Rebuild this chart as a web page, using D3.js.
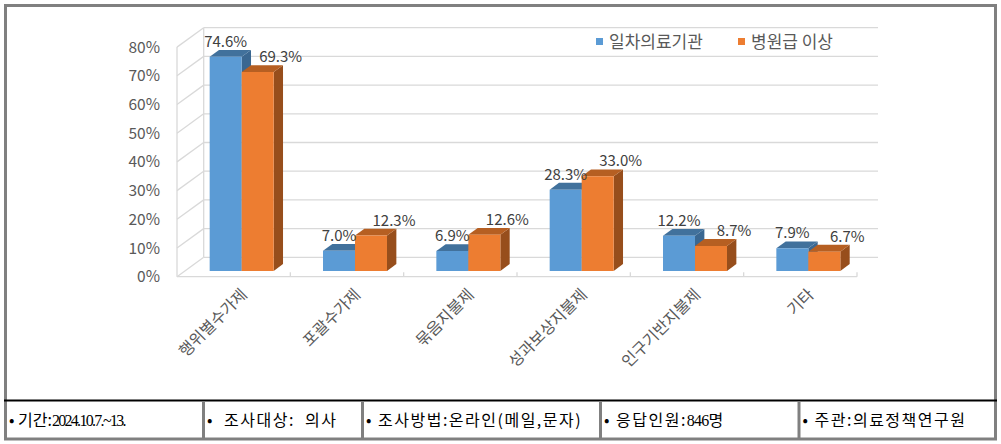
<!DOCTYPE html>
<html><head><meta charset="utf-8">
<script src="https://cdn.jsdelivr.net/npm/d3@7"></script>
<style>
html,body{margin:0;padding:0;background:#fff;}
svg{display:block;}
text{font-family:"Noto Sans CJK KR","Noto Sans",sans-serif;}
.pre{white-space:pre;}
</style></head>
<body>
<svg id="c" width="1001" height="444"></svg>
<script>
const categories = ["행위별수가제","포괄수가제","묶음지불제","성과보상지불제","인구기반지불제","기타"];
const seriesNames = ["일차의료기관","병원급 이상"];
const primaryCare = [74.6, 7.0, 6.9, 28.3, 12.2, 7.9];
const hospital = [69.3, 12.3, 12.6, 33.0, 8.7, 6.7];
const yTicks = [0,10,20,30,40,50,60,70,80];
const infoCells = [
  {parts:[["• 기간:","tight"],["2024.10.7.~13.","num"]]},
  {parts:[["•  조사대상:  의사",""]]},
  {parts:[["• 조사방법:온라인(메일,문자)",""]]},
  {parts:[["• 응답인원:",""],["846","num2"],["명",""]]},
  {parts:[["• 주관:의료정책연구원",""]]}
];
const cellEdges = [5.5, 203.5, 362.5, 600.5, 799, 995.5];

const svg = d3.select("#c");
const colors = {
  front:["#5B9BD5","#ED7D31"],
  top:["#41719C","#B65F22"],
  side:["#3A6791","#974E1C"]
};
const DX = 26.7, DY = 19.4;
const x = d3.scaleBand().domain(categories).range([177, 857]).paddingInner(0).paddingOuter(0);
const y = d3.scaleLinear().domain([0, 80]).range([276.7, 47.1]);
const P = (px, v, z) => [px + z*DX, y(v) - z*DY];

// outer frame
svg.append("rect").attr("x",5.5).attr("y",5.5).attr("width",990).attr("height",433.5)
  .attr("fill","none").attr("stroke","#808080").attr("stroke-width",3);

const grid = svg.append("g").attr("stroke","#d9d9d9").attr("stroke-width",1.3).attr("fill","none");
yTicks.forEach(t => {
  const a = P(177, t, 1), b = [878, y(t) - DY];
  grid.append("line").attr("x1",a[0]).attr("y1",a[1]).attr("x2",b[0]).attr("y2",b[1]);
  const f = P(177, t, 0);
  grid.append("line").attr("x1",f[0]).attr("y1",f[1]).attr("x2",a[0]).attr("y2",a[1]);
});
grid.append("line").attr("x1",177).attr("y1",y(0)).attr("x2",177).attr("y2",y(80));
grid.append("line").attr("x1",177+DX).attr("y1",y(0)-DY).attr("x2",177+DX).attr("y2",y(80)-DY);
grid.append("line").attr("x1",177).attr("y1",y(0)).attr("x2",857).attr("y2",y(0));
categories.forEach((c,i) => {
  const xx = x(c) + x.bandwidth();
  grid.append("line").attr("x1",xx).attr("y1",y(0)).attr("x2",xx).attr("y2",y(0)-4.5);
});

// y axis labels
svg.append("g").selectAll("text").data(yTicks).join("text")
  .attr("x",160).attr("y",d => y(d)).attr("dy","0.36em").attr("text-anchor","end")
  .attr("font-size",15.5).attr("fill","#595959").text(d => d + "%");

// bars
const barW = 32, z0 = 0.3, z1 = 0.65;
const series = [primaryCare, hospital];
const bars = svg.append("g");
const fmt = d3.format(".1f");
categories.forEach((c, i) => {
  const cx = x(c) + x.bandwidth()/2;
  series.forEach((s, k) => {
    const v = s[i];
    const xl = cx - barW + k*barW, xr = xl + barW;
    const fl = P(xl, v, z0), fr = P(xr, v, z0), bl = P(xl, v, z1), br = P(xr, v, z1);
    const f0l = P(xl, 0, z0), f0r = P(xr, 0, z0), b0r = P(xr, 0, z1);
    bars.append("path").attr("d", d3.line()([fr, br, b0r, f0r])).attr("fill", colors.side[k]);
    bars.append("path").attr("d", d3.line()([fl, bl, br, fr])).attr("fill", colors.top[k]);
    bars.append("path").attr("d", d3.line()([fl, fr, f0r, f0l])).attr("fill", colors.front[k]);
  });
});
// data labels
const lbl = svg.append("g");
categories.forEach((c, i) => {
  const cx = x(c) + x.bandwidth()/2;
  series.forEach((s, k) => {
    const v = s[i];
    const fc = cx - barW/2 + k*barW + z0*DX;
    const lx = k === 0 ? fc : fc + 23;
    const ly = y(v) - z1*DY - 3;
    lbl.append("text").attr("x", lx).attr("y", ly).attr("text-anchor","middle")
      .attr("font-size",15).attr("fill","#404040").text(fmt(v) + "%");
  });
});

// category labels
svg.append("g").selectAll("text").data(categories).join("text")
  .attr("transform", d => `translate(${x(d)+x.bandwidth()/2+6},${287}) rotate(-45)`)
  .attr("text-anchor","end").attr("dy","0.75em")
  .attr("font-size",16).attr("fill","#595959").text(d => d);

// legend
const lg = svg.append("g");
const legX = [596, 738];
seriesNames.forEach((n, k) => {
  lg.append("rect").attr("x", legX[k]).attr("y", 38).attr("width", 7).attr("height", 7).attr("fill", colors.front[k]);
  lg.append("text").attr("x", legX[k] + 13).attr("y", 41.5).attr("dy","0.36em")
    .attr("font-size",17).attr("fill","#595959").text(n);
});

// info table
const tb = svg.append("g");
tb.append("line").attr("x1",4).attr("x2",997).attr("y1",400.5).attr("y2",400.5).attr("stroke","#000").attr("stroke-width",2);
cellEdges.slice(1,-1).forEach(e => {
  tb.append("line").attr("x1",e).attr("x2",e).attr("y1",401).attr("y2",439).attr("stroke","#808080").attr("stroke-width",3);
});
infoCells.forEach((cell, i) => {
  const t = tb.append("text").attr("class","pre").attr("x", cellEdges[i] + 3.5).attr("y", 420).attr("dy","0.36em")
    .attr("font-size",16).attr("letter-spacing","1.5").attr("fill","#000");
  cell.parts.forEach(([s, cls]) => {
    const sp = t.append("tspan").text(s);
    if (cls === "tight") sp.attr("letter-spacing","0");
    if (cls === "num") sp.attr("font-family","Liberation Serif").attr("letter-spacing","-1.7").attr("font-size",16);
    if (cls === "num2") sp.attr("font-family","Liberation Serif").attr("letter-spacing","-0.8").attr("font-size",16);
  });
});
</script>
</body></html>
